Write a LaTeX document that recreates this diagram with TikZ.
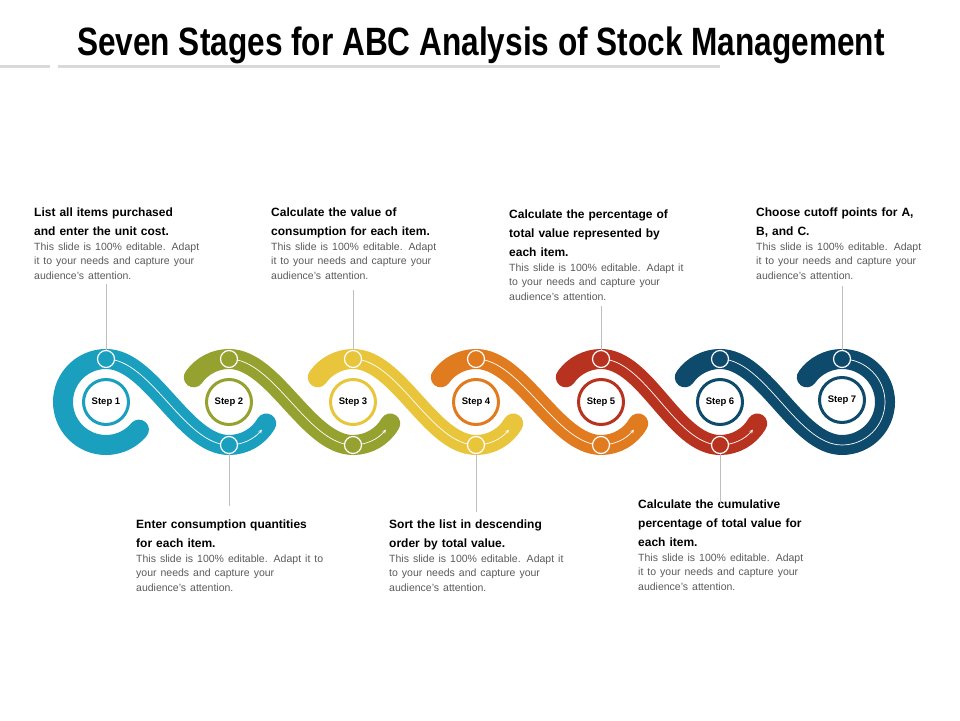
\documentclass[tikz,border=0pt]{standalone}
\usepackage{fontspec}
\setmainfont{Liberation Sans}
\newfontfamily\titlefont[FakeStretch=0.8]{Liberation Sans}
\usetikzlibrary{positioning,calc}
\definecolor{cteal}{HTML}{1A9FBF}
\definecolor{colive}{HTML}{95A22F}
\definecolor{cyellow}{HTML}{E8C53A}
\definecolor{corange}{HTML}{E07B1F}
\definecolor{cred}{HTML}{B83220}
\definecolor{cblue}{HTML}{0D4A6B}
\definecolor{cbody}{HTML}{5A5A5A}
\tikzset{
  ribbon/.style={line width=20pt,line cap=round,draw=#1},
  guide/.style={white,line width=0.7pt},
  stepring/.style={circle,draw=#1,line width=3pt,fill=white,minimum size=45pt,inner sep=0pt,font=\bfseries\fontsize{9.5}{11}\selectfont},
  knob/.style={circle,draw=white,line width=1.2pt,fill=#1,minimum size=17pt,inner sep=0pt},
  leader/.style={draw=black!25,line width=0.8pt},
  infobox/.style={align=left,inner sep=0pt,anchor=north west,text width=200pt,font=\bfseries\fontsize{12}{19}\selectfont},
}
\newcommand{\infotext}[2]{#1\par{\mdseries\color{cbody}\fontsize{10.5}{14.5}\selectfont #2\par}}
\begin{document}
\begin{tikzpicture}[x=1pt,y=1pt]
  \useasboundingbox (0,0) rectangle (960,720);
  % title
  \node (title) at (481,675) {\titlefont\bfseries\fontsize{39.5}{44}\selectfont Seven Stages for ABC Analysis of Stock Management};
  \draw[black!15,line width=3pt] (0,653) -- (50,653);
  \draw[black!15,line width=3pt] (58,653) -- (720,653);
  % ribbon segments
  \def\cy{318}
  \draw[ribbon=cteal] ($(106,\cy)+(-40:43)$) arc (-40:-270:43)
     .. controls (151,361) and (184,275) .. (229,275) arc (270:330:43);
  \foreach \xa/\xb/\col in {229/353/colive,353/476/cyellow,476/601/corange,601/720/cred}{
    \draw[ribbon=\col] ($(\xa,\cy)+(145:43)$) arc (145:90:43)
       .. controls (\xa+45,361) and (\xb-45,275) .. (\xb,275) arc (270:330:43);
  }
  \draw[ribbon=cblue] ($(720,\cy)+(145:43)$) arc (145:90:43)
     .. controls (765,361) and (797,275) .. (842,275) arc (270:505:43);
  % guide lines
  \foreach \xa/\xb in {106/229,229/353,353/476,476/601,601/720}{
    \draw[guide,-stealth] (\xa,361) .. controls (\xa+45,361) and (\xb-45,275) .. (\xb,275) arc (270:320:43);
  }
  \draw[guide] (720,361) .. controls (765,361) and (797,275) .. (842,275) arc (270:450:43);
  % step rings
  \node[stepring=cteal] (s1) at (106,\cy) {Step 1};
  \node[stepring=colive] (s2) at (229,\cy) {Step 2};
  \node[stepring=cyellow] (s3) at (353,\cy) {Step 3};
  \node[stepring=corange] (s4) at (476,\cy) {Step 4};
  \node[stepring=cred] (s5) at (601,\cy) {Step 5};
  \node[stepring=cblue] (s6) at (720,\cy) {Step 6};
  \node[stepring=cblue] (s7) at (842,\cy+2) {Step 7};
  % knobs
  \node[knob=cteal] (k1) at (106,361) {};
  \node[knob=colive] (k2a) at (229,361) {};
  \node[knob=cyellow] (k3) at (353,361) {};
  \node[knob=corange] (k4a) at (476,361) {};
  \node[knob=cred] (k5) at (601,361) {};
  \node[knob=cblue] (k6a) at (720,361) {};
  \node[knob=cblue] (k7) at (842,361) {};
  \node[knob=cteal] (k2) at (229,275) {};
  \node[knob=colive] (k3b) at (353,275) {};
  \node[knob=cyellow] (k4) at (476,275) {};
  \node[knob=corange] (k5b) at (601,275) {};
  \node[knob=cred] (k6) at (720,275) {};
  % texts
  \node[infobox] (t1) at (34,512) {\infotext{List all items purchased\\and enter the unit cost.}{This slide is 100\% editable. Adapt\\it to your needs and capture your\\audience's attention.}};
  \node[infobox] (t3) at (271,512) {\infotext{Calculate the value of\\consumption for each item.}{This slide is 100\% editable. Adapt\\it to your needs and capture your\\audience's attention.}};
  \node[infobox] (t5) at (509,510) {\infotext{Calculate the percentage of\\total value represented by\\each item.}{This slide is 100\% editable. Adapt it\\to your needs and capture your\\audience's attention.}};
  \node[infobox] (t7) at (756,512) {\infotext{Choose cutoff points for A,\\B, and C.}{This slide is 100\% editable. Adapt\\it to your needs and capture your\\audience's attention.}};
  \node[infobox] (t2) at (136,200) {\infotext{Enter consumption quantities\\for each item.}{This slide is 100\% editable. Adapt it to\\your needs and capture your\\audience's attention.}};
  \node[infobox] (t4) at (389,200) {\infotext{Sort the list in descending\\order by total value.}{This slide is 100\% editable. Adapt it\\to your needs and capture your\\audience's attention.}};
  \node[infobox] (t6) at (638,220) {\infotext{Calculate the cumulative\\percentage of total value for\\each item.}{This slide is 100\% editable. Adapt\\it to your needs and capture your\\audience's attention.}};
  % leaders
  \draw[leader] (k1.north) -- ++(0,66);
  \draw[leader] (k3.north) -- ++(0,60);
  \draw[leader] (k5.north) -- ++(0,44);
  \draw[leader] (k7.north) -- ++(0,64);
  \draw[leader] (k2.south) -- ++(0,-52);
  \draw[leader] (k4.south) -- ++(0,-58);
  \draw[leader] (k6.south) -- ++(0,-50);
\end{tikzpicture}
\end{document}
